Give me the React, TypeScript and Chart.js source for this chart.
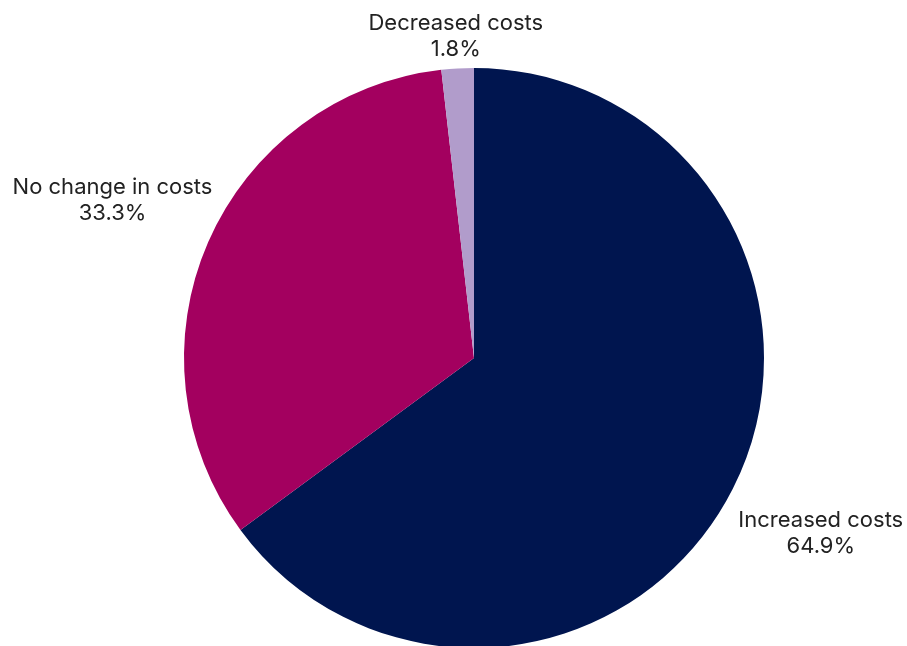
import React, { useEffect, useRef } from "react";
import { Chart, registerables } from "chart.js";

Chart.register(...registerables);

const categories = ["Increased costs", "No change in costs", "Decreased costs"];
const shares = [64.9, 33.3, 1.8];
const sliceColors = ["#00154f", "#a3005f", "#b19ccb"];

const labelPlugin = {
  id: "outerLabels",
  afterDatasetsDraw(chart: any, _args: any, opts: any) {
    const ctx = chart.ctx;
    const meta = chart.getDatasetMeta(0);
    const factors: number[] = opts.factors || [];
    ctx.save();
    ctx.font = "22px Inter";
    ctx.fillStyle = "#222222";
    ctx.textAlign = "center";
    ctx.textBaseline = "middle";
    meta.data.forEach((arc: any, i: number) => {
      const { x, y, startAngle, endAngle, outerRadius } = arc.getProps(
        ["x", "y", "startAngle", "endAngle", "outerRadius"],
        true
      );
      const mid = (startAngle + endAngle) / 2;
      const d = outerRadius * (factors[i] ?? 1.3);
      const cx = x + Math.cos(mid) * d;
      const cy = y + Math.sin(mid) * d;
      ctx.fillText(chart.data.labels[i], cx, cy - 13);
      ctx.fillText(shares[i].toFixed(1) + "%", cx, cy + 13);
    });
    ctx.restore();
  },
};

export default function App() {
  const ref = useRef<HTMLCanvasElement | null>(null);
  useEffect(() => {
    document.body.style.margin = "0";
    const chart = new Chart(ref.current as HTMLCanvasElement, {
      type: "pie",
      data: {
        labels: categories,
        datasets: [
          {
            data: shares,
            backgroundColor: sliceColors,
            borderWidth: 0,
          },
        ],
      },
      options: {
        responsive: false,
        animation: false,
        layout: { padding: { left: 184, right: 143, top: 68, bottom: 12 } },
        plugins: {
          legend: { display: false },
          tooltip: { enabled: false },
          outerLabels: { factors: [1.34, 1.36, 1.11] },
        } as any,
      },
      plugins: [labelPlugin],
    });
    return () => chart.destroy();
  }, []);
  return (
    <div
      style={{
        position: "fixed",
        left: 0,
        top: 0,
        width: 907,
        height: 646,
        overflow: "hidden",
        background: "#ffffff",
      }}
    >
      <canvas ref={ref} width={907} height={660} style={{ width: 907, height: 660 }} />
    </div>
  );
}
